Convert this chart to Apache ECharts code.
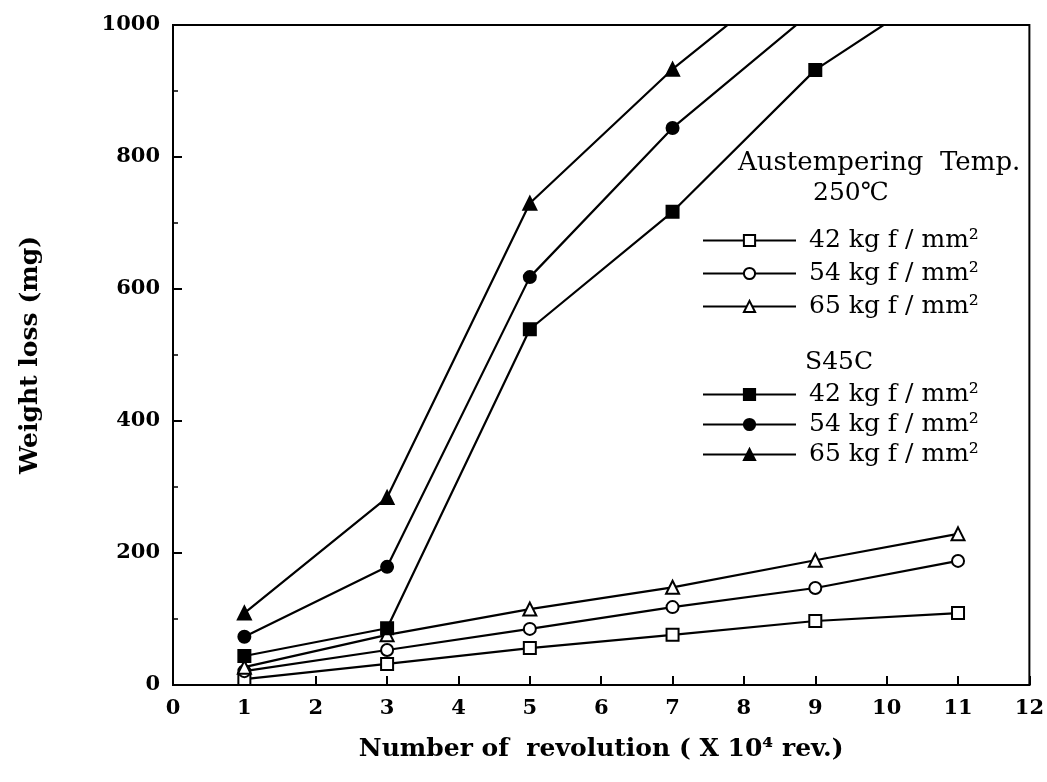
<!DOCTYPE html>
<html>
<head>
<meta charset="utf-8">
<script src="https://cdn.jsdelivr.net/npm/echarts@6/dist/echarts.min.js"></script>
<style>
html,body{margin:0;padding:0;background:#fff;}
#chart{width:1047px;height:782px;}
</style>
</head>
<body>
<div id="chart"></div>
<script>
// ---- data ----
const revolutions = [1, 3, 5, 7, 9, 11];
const aus42 = [9, 32, 56, 76, 97, 109];
const aus54 = [21, 53, 85, 118, 147, 188];
const aus65 = [27, 76, 115, 148, 189, 229];
const s45c42 = [44, 86, 539, 717, 932, 1074];
const s45c54 = [73, 179, 618, 844, 1024];
const s45c65 = [109, 284, 730, 933, 1107];
const xTicks = [0,1,2,3,4,5,6,7,8,9,10,11,12];
const yTicks = [0,200,400,600,800,1000];
const legendLabels = {
  A42: '42 kg f / mm\u00B2', A54: '54 kg f / mm\u00B2', A65: '65 kg f / mm\u00B2',
  S42: '42 kg f / mm\u00B2', S54: '54 kg f / mm\u00B2', S65: '65 kg f / mm\u00B2'
};

const FONT = '"DejaVu Serif", "Liberation Serif", serif';
function pairs(vals){ return vals.map((v,i)=>[revolutions[i], v]); }

function mk(name, vals, symbol, filled){
  return {
    name: name, type: 'line', data: pairs(vals), clip: true,
    symbol: symbol, symbolSize: symbol === 'triangle' ? 13 : 12,
    lineStyle: {color: '#000', width: 2.2},
    itemStyle: {color: filled ? '#000' : '#fff', borderColor: '#000', borderWidth: 2},
    emphasis: {disabled: true}, animation: false
  };
}

const legendText = {fontFamily: FONT, fontSize: 25, color: '#000', lineHeight: 24, padding: [0,0,0,8]};

const chart = echarts.init(document.getElementById('chart'), null, {renderer: 'canvas'});
chart.setOption({
  backgroundColor: '#fff',
  animation: false,
  grid: {left: 173, right: 17, top: 25, bottom: 97, show: true, borderColor: '#000', borderWidth: 2, backgroundColor: 'transparent'},
  xAxis: {
    type: 'value', min: 0, max: 12, interval: 1,
    name: 'Number of  revolution ( X 10\u2074 rev.)', nameLocation: 'middle', nameGap: 52,
    nameTextStyle: {fontFamily: FONT, fontWeight: 'bold', fontSize: 25, color: '#000'},
    axisLine: {lineStyle: {color: '#000', width: 2}},
    axisTick: {inside: true, length: 9, lineStyle: {color: '#000', width: 2}},
    axisLabel: {fontFamily: FONT, fontWeight: 'bold', fontSize: 21, color: '#000', margin: 13,
      formatter: v => xTicks.includes(v) ? String(v) : ''},
    splitLine: {show: false}
  },
  yAxis: {
    type: 'value', min: 0, max: 1000, interval: 200,
    name: 'Weight loss (mg)', nameLocation: 'middle', nameGap: 130, nameRotate: 90,
    nameTextStyle: {fontFamily: FONT, fontWeight: 'bold', fontSize: 25, color: '#000'},
    axisLine: {lineStyle: {color: '#000', width: 2}},
    axisTick: {inside: true, length: 9, lineStyle: {color: '#000', width: 2}},
    minorTick: {show: true, splitNumber: 2, length: 5, lineStyle: {color: '#000', width: 1.5}},
    axisLabel: {fontFamily: FONT, fontWeight: 'bold', fontSize: 21, color: '#000', margin: 13,
      formatter: v => yTicks.includes(v) ? String(v) : ''},
    splitLine: {show: false}
  },
  legend: [
    {
      data: ['A42','A54','A65'], orient: 'vertical', left: 697, top: 223,
      itemWidth: 93, itemHeight: 14, itemGap: 8,
      formatter: n => legendLabels[n],
      textStyle: legendText,
      selectedMode: false
    },
    {
      data: ['S42','S54','S65'], orient: 'vertical', left: 697, top: 377,
      itemWidth: 93, itemHeight: 14, itemGap: 5,
      formatter: n => legendLabels[n],
      textStyle: legendText,
      selectedMode: false
    }
  ],
  graphic: [
    {type: 'text', left: 738, top: 150, style: {text: 'Austempering  Temp.', font: '26px ' + FONT, fill: '#000'}},
    {type: 'text', left: 813, top: 181, style: {text: '250\u2103', font: '25px ' + FONT, fill: '#000'}},
    {type: 'text', left: 805, top: 350, style: {text: 'S45C', font: '25px ' + FONT, fill: '#000'}}
  ],
  series: [
    mk('A42', aus42, 'rect', false),
    mk('A54', aus54, 'circle', false),
    mk('A65', aus65, 'triangle', false),
    mk('S42', s45c42, 'rect', true),
    mk('S54', s45c54, 'circle', true),
    mk('S65', s45c65, 'triangle', true)
  ]
});
</script>
</body>
</html>
